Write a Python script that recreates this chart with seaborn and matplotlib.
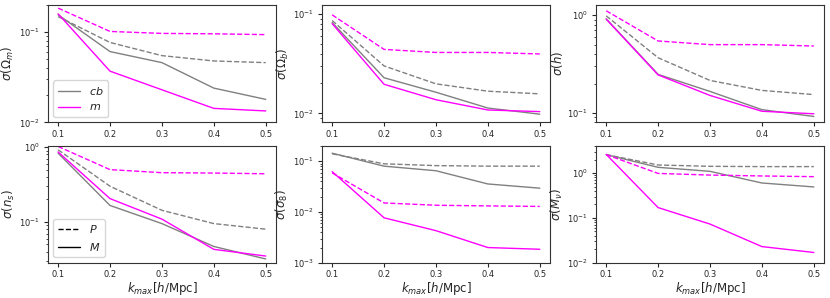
import matplotlib
matplotlib.use("Agg")
import matplotlib.pyplot as plt
from matplotlib.lines import Line2D
import seaborn as sns

# k_max values, shared by all panels
kmax = [0.1, 0.2, 0.3, 0.4, 0.5]

# sigma(Omega_m)
om_cb_P = [0.149, 0.077, 0.055, 0.048, 0.046]
om_cb_M = [0.156, 0.061, 0.046, 0.024, 0.018]
om_m_P = [0.185, 0.102, 0.097, 0.096, 0.094]
om_m_M = [0.160, 0.037, 0.023, 0.0143, 0.0134]

# sigma(Omega_b)
ob_cb_P = [0.086, 0.030, 0.0198, 0.0167, 0.0157]
ob_cb_M = [0.082, 0.0228, 0.0163, 0.0113, 0.0098]
ob_m_P = [0.098, 0.044, 0.041, 0.041, 0.0396]
ob_m_M = [0.080, 0.0196, 0.0137, 0.0108, 0.0104]

# sigma(h)
h_cb_P = [0.985, 0.367, 0.215, 0.170, 0.154]
h_cb_M = [0.92, 0.248, 0.166, 0.108, 0.092]
h_m_P = [1.11, 0.545, 0.50, 0.50, 0.484]
h_m_M = [0.91, 0.245, 0.151, 0.104, 0.098]

# sigma(n_s)
ns_cb_P = [0.92, 0.30, 0.143, 0.095, 0.080]
ns_cb_M = [0.83, 0.166, 0.095, 0.047, 0.032]
ns_m_P = [1.02, 0.50, 0.455, 0.45, 0.44]
ns_m_M = [0.86, 0.205, 0.109, 0.043, 0.035]

# sigma(sigma_8)
s8_cb_P = [0.140, 0.089, 0.082, 0.080, 0.080]
s8_cb_M = [0.144, 0.080, 0.065, 0.0357, 0.0295]
s8_m_P = [0.059, 0.0151, 0.0136, 0.0132, 0.0129]
s8_m_M = [0.0625, 0.0077, 0.0043, 0.0020, 0.00185]

# sigma(M_nu)
mnu_cb_P = [2.57, 1.51, 1.41, 1.39, 1.39]
mnu_cb_M = [2.57, 1.34, 1.09, 0.60, 0.49]
mnu_m_P = [2.57, 0.98, 0.90, 0.86, 0.83]
mnu_m_M = [2.60, 0.17, 0.073, 0.023, 0.017]

ylabels = [r'$\sigma(\Omega_m)$', r'$\sigma(\Omega_b)$', r'$\sigma(h)$',
           r'$\sigma(n_s)$', r'$\sigma(\sigma_8)$', r'$\sigma(M_\nu)$']
panels = [
    (om_cb_P, om_cb_M, om_m_P, om_m_M),
    (ob_cb_P, ob_cb_M, ob_m_P, ob_m_M),
    (h_cb_P, h_cb_M, h_m_P, h_m_M),
    (ns_cb_P, ns_cb_M, ns_m_P, ns_m_M),
    (s8_cb_P, s8_cb_M, s8_m_P, s8_m_M),
    (mnu_cb_P, mnu_cb_M, mnu_m_P, mnu_m_M),
]
ylims = [(0.01, 0.2), (0.0081, 0.123), (0.080, 1.27),
         (0.0284, 1.05), (0.001, 0.204), (0.01, 4.1)]

sns.set_style("white")
plt.rcParams['axes.edgecolor'] = '#333333'
plt.rcParams['xtick.bottom'] = True
plt.rcParams['ytick.left'] = True

fig, axes = plt.subplots(2, 3, figsize=(8.3, 2.98), dpi=100)
fig.subplots_adjust(left=0.0575, right=0.993, top=0.983, bottom=0.118,
                    wspace=0.2, hspace=0.197)

for i, ax in enumerate(axes.flat):
    cbP, cbM, mP, mM = panels[i]
    sns.lineplot(x=kmax, y=cbP, ax=ax, color='gray', linestyle='--', lw=1)
    sns.lineplot(x=kmax, y=cbM, ax=ax, color='gray', linestyle='-', lw=1)
    sns.lineplot(x=kmax, y=mP, ax=ax, color='magenta', linestyle='--', lw=1)
    sns.lineplot(x=kmax, y=mM, ax=ax, color='magenta', linestyle='-', lw=1)
    ax.set_yscale('log')
    ax.set_ylim(*ylims[i])
    ax.set_xticks([0.1, 0.2, 0.3, 0.4, 0.5])
    ax.tick_params(labelsize=6, length=3, pad=2.5)
    ax.tick_params(which='minor', length=1.8)
    ax.set_ylabel(ylabels[i], fontsize=8.5, labelpad=2)
    if i >= 3:
        ax.set_xlabel(r'$k_{max}[h/{\rm Mpc}]$', fontsize=8.5, labelpad=0.5)

h1 = [Line2D([], [], color='gray', lw=1), Line2D([], [], color='magenta', lw=1)]
axes[0, 0].legend(h1, [r'$cb$', r'$m$'], loc='lower left', fontsize=8)
h2 = [Line2D([], [], color='black', lw=1, ls='--'), Line2D([], [], color='black', lw=1)]
axes[1, 0].legend(h2, [r'$P$', r'$M$'], loc='lower left', fontsize=8)

fig.savefig('out.png', dpi=100)
